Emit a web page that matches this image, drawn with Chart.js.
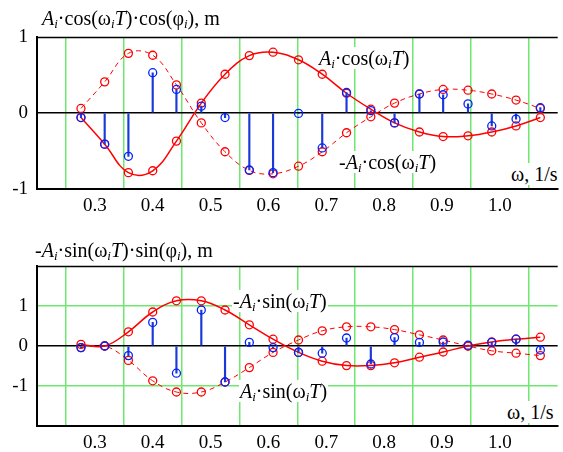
<!DOCTYPE html>
<html>
<head>
<meta charset="utf-8">
<script src="https://cdn.jsdelivr.net/npm/chart.js@4"></script>
<style>
  body { margin: 0; background: #fff; }
  #wrap { position: relative; width: 563px; height: 452px; overflow: hidden; font-family: 'Liberation Serif', 'Times New Roman', serif; }
  canvas { position: absolute; left: 0; }
  .lbl { position: absolute; font-size: 20px; line-height: 22px; background: #fff; white-space: nowrap; color: #000; padding: 0 1px; }
  .lbl i { font-style: italic; }
  .lbl sub { font-size: 13px; font-style: italic; vertical-align: -3px; line-height: 0; }
</style>
</head>
<body>
<div id="wrap">
  <canvas id="top-chart" width="563" height="220" style="top:0"></canvas>
  <canvas id="bottom-chart" width="563" height="232" style="top:220px"></canvas>

  <div class="lbl" style="left:41px;top:7px;"><i>A</i><sub>i</sub>·cos(ω<sub>i</sub><i>T</i>)·cos(φ<sub>i</sub>), m</div>
  <div class="lbl" style="left:318px;top:47px;"><i>A</i><sub>i</sub>·cos(ω<sub>i</sub><i>T</i>)</div>
  <div class="lbl" style="left:338px;top:151px;">-<i>A</i><sub>i</sub>·cos(ω<sub>i</sub><i>T</i>)</div>
  <div class="lbl" style="left:510px;top:163px;">ω, 1/s</div>

  <div class="lbl" style="left:34px;top:239px;">-<i>A</i><sub>i</sub>·sin(ω<sub>i</sub><i>T</i>)·sin(φ<sub>i</sub>), m</div>
  <div class="lbl" style="left:232px;top:290px;">-<i>A</i><sub>i</sub>·sin(ω<sub>i</sub><i>T</i>)</div>
  <div class="lbl" style="left:239px;top:380px;"><i>A</i><sub>i</sub>·sin(ω<sub>i</sub><i>T</i>)</div>
  <div class="lbl" style="left:506px;top:401px;">ω, 1/s</div>
</div>

<script>
// frequencies ω_i, 1/s
const omega = [0.276, 0.317, 0.358, 0.400, 0.441, 0.484, 0.525, 0.567, 0.608, 0.652,
               0.693, 0.735, 0.777, 0.818, 0.861, 0.902, 0.945, 0.986, 1.028, 1.070];

// top panel
const cosSolid  = [-0.06, -0.41, -0.785, -0.76, -0.37, 0.13, 0.51, 0.755, 0.80, 0.70,
                   0.51, 0.26, 0.05, -0.13, -0.25, -0.31, -0.30, -0.25, -0.17, -0.06];
const cosDashed = [0.06, 0.41, 0.785, 0.76, 0.37, -0.13, -0.51, -0.755, -0.80, -0.70,
                   -0.51, -0.26, -0.05, 0.13, 0.25, 0.31, 0.30, 0.25, 0.17, 0.06];
const cosStem   = [-0.06, -0.41, -0.57, 0.53, 0.31, 0.09, -0.06, -0.75, -0.785, -0.005,
                   -0.46, 0.27, 0.03, -0.13, 0.25, 0.24, 0.12, -0.17, -0.08, 0.07];

// bottom panel
const sinSolid  = [0.04, 0.0, 0.355, 0.85, 1.13, 1.13, 0.90, 0.53, 0.17, -0.16,
                   -0.38, -0.49, -0.49, -0.42, -0.28, -0.15, 0.0, 0.10, 0.17, 0.22];
const sinDashed = [-0.04, 0.0, -0.36, -0.87, -1.15, -1.15, -0.90, -0.54, -0.16, 0.15,
                   0.38, 0.48, 0.48, 0.41, 0.28, 0.15, 0.0, -0.12, -0.18, -0.24];
const sinStem   = [-0.04, 0.0, -0.24, 0.59, -0.68, 0.90, -0.90, 0.09, -0.04, -0.16,
                   -0.18, 0.20, -0.45, 0.21, 0.09, 0.10, 0.02, 0.09, 0.17, -0.10];

const xTicks = [0.3, 0.4, 0.5, 0.6, 0.7, 0.8, 0.9, 1.0];
const yTicksTop = [-1, 0, 1];
const yTicksBottom = [-2, -1, 0, 1, 2];
const yLabels = [-1, 0, 1];

const RED = '#ff0000';
const BLUE = '#0022ff';
const STEM = '#1a3ad8';
const GREEN = '#6ee86e';

Chart.defaults.font.family = 'Liberation Serif';
const tickFont = { family: 'Liberation Serif', size: 19 };

function pts(vals) {
  return vals.map((v, i) => ({ x: omega[i], y: v }));
}

// top edge of the plot frame
const topFrame = {
  id: 'topFrame',
  afterDraw(chart) {
    const a = chart.chartArea, c = chart.ctx;
    c.save();
    c.strokeStyle = '#000';
    c.lineWidth = 1.5;
    c.beginPath();
    c.moveTo(a.left, a.top + 0.5);
    c.lineTo(a.right, a.top + 0.5);
    c.stroke();
    c.restore();
  }
};

function renderPanel(id, solid, dashed, stem, yMin, yMax, yTicks, plotTop, plotBottom, greenRows) {
  const canvas = document.getElementById(id);
  const H = canvas.height;

  const data = {
    datasets: [
      {
        type: 'line',
        data: pts(dashed),
        borderColor: RED,
        borderWidth: 1,
        borderDash: [5, 4],
        tension: 0.4,
        pointRadius: 4,
        pointBorderWidth: 1.3,
        pointBorderColor: RED,
        pointBackgroundColor: 'rgba(0,0,0,0)',
        order: 4
      },
      {
        type: 'line',
        data: pts(solid),
        borderColor: RED,
        borderWidth: 1.5,
        tension: 0.4,
        pointRadius: 4,
        pointBorderWidth: 1.3,
        pointBorderColor: RED,
        pointBackgroundColor: 'rgba(0,0,0,0)',
        order: 3
      },
      {
        type: 'bar',
        data: pts(stem),
        backgroundColor: STEM,
        barThickness: 1.5,
        order: 2
      },
      {
        type: 'line',
        data: pts(stem),
        showLine: false,
        pointRadius: 4,
        pointBorderWidth: 1.3,
        pointBorderColor: BLUE,
        pointBackgroundColor: 'rgba(0,0,0,0)',
        order: 1
      }
    ]
  };

  const config = {
    data: data,
    options: {
      responsive: false,
      animation: false,
      devicePixelRatio: 1,
      layout: { padding: { top: plotTop, left: 0, right: 0, bottom: 0 } },
      plugins: { legend: { display: false }, tooltip: { enabled: false } },
      scales: {
        x: {
          type: 'linear',
          min: 0.2,
          max: 1.1,
          offset: false,
          afterBuildTicks: s => { s.ticks = xTicks.map(v => ({ value: v })); },
          afterFit: s => { s.height = H - plotBottom; },
          ticks: {
            font: tickFont,
            color: '#000',
            padding: 6,
            maxRotation: 0,
            autoSkip: false,
            callback: v => Number(v).toFixed(1)
          },
          grid: { color: GREEN, lineWidth: 1.5, drawTicks: false },
          border: { display: true, color: '#000', width: 2 }
        },
        y: {
          min: yMin,
          max: yMax,
          afterBuildTicks: s => { s.ticks = yTicks.map(v => ({ value: v })); },
          afterFit: s => { s.width = 37; },
          ticks: {
            font: tickFont,
            color: '#000',
            padding: 9,
            callback: v => yLabels.includes(v) ? String(v) : ''
          },
          grid: {
            drawTicks: false,
            lineWidth: 1.5,
            color: ctx => {
              const v = ctx.tick ? ctx.tick.value : null;
              if (v === 0) return '#000';
              if (greenRows && Math.abs(v) === 1) return GREEN;
              return 'rgba(0,0,0,0)';
            }
          },
          border: { display: true, color: '#000', width: 2 }
        }
      }
    },
    plugins: [topFrame]
  };

  return new Chart(canvas, config);
}

renderPanel('top-chart', cosSolid, cosDashed, cosStem, -1, 1, yTicksTop, 37, 189, false);
renderPanel('bottom-chart', sinSolid, sinDashed, sinStem, -2, 2, yTicksBottom, 46, 206, true);
</script>
</body>
</html>
